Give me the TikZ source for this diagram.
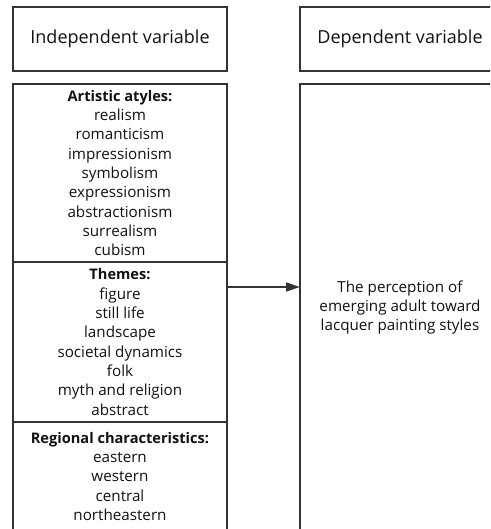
\documentclass[tikz,border=0pt]{standalone}
\usepackage{fontspec}
\setmainfont{Open Sans}
\usetikzlibrary{calc,arrows.meta}
\definecolor{linegray}{HTML}{333333}
\definecolor{textgray}{HTML}{111111}
\newcommand{\heading}[1]{{\bfseries\fontsize{14.6}{19.3}\selectfont #1}}

\begin{document}
\begin{tikzpicture}[x=1pt,y=-1pt,>={Triangle[length=14pt,width=9pt]},line width=1.5pt,color=linegray,main node/.style={draw,rectangle,align=center,inner sep=0pt,outer sep=0pt,text=textgray,font=\fontsize{15.2}{19.3}\selectfont},head node/.style={main node,minimum height=64pt,font=\fontsize{18}{20}\selectfont}]

    \useasboundingbox (0,0) rectangle (490,529);
    \clip (0,0) rectangle (490,529);

    \node[head node, minimum width=214pt] (1) at (120,39) {Independent variable};
    \node[head node, minimum width=200pt] (2) at ($(1)+(280,0)$) {Dependent variable};

    \node[main node, minimum width=214pt, minimum height=178pt, anchor=north] (3) at (120,84) {\heading{Artistic atyles:}\\realism\\romanticism\\impressionism\\symbolism\\expressionism\\abstractionism\\surrealism\\cubism};
    \node[main node, minimum width=214pt, minimum height=160pt, anchor=north] (4) at (3.south) {\heading{Themes:}\\figure\\still life\\landscape\\societal dynamics\\folk\\myth and religion\\abstract};
    \node[main node, minimum width=214pt, minimum height=109pt, anchor=north] (5) at (4.south) {\heading{Regional characteristics:}\\eastern\\western\\central\\northeastern};

    \node[main node, minimum width=200pt, minimum height=447pt, anchor=north] (6) at ($(2.south)+(0,13)$) {The perception of\\emerging adult toward\\lacquer painting styles};

    \coordinate (7) at ($(4.north east)+(0,25)$);

    \path
        (7) edge[->] (7 -| 6.west)
    ;
\end{tikzpicture}
\end{document}
